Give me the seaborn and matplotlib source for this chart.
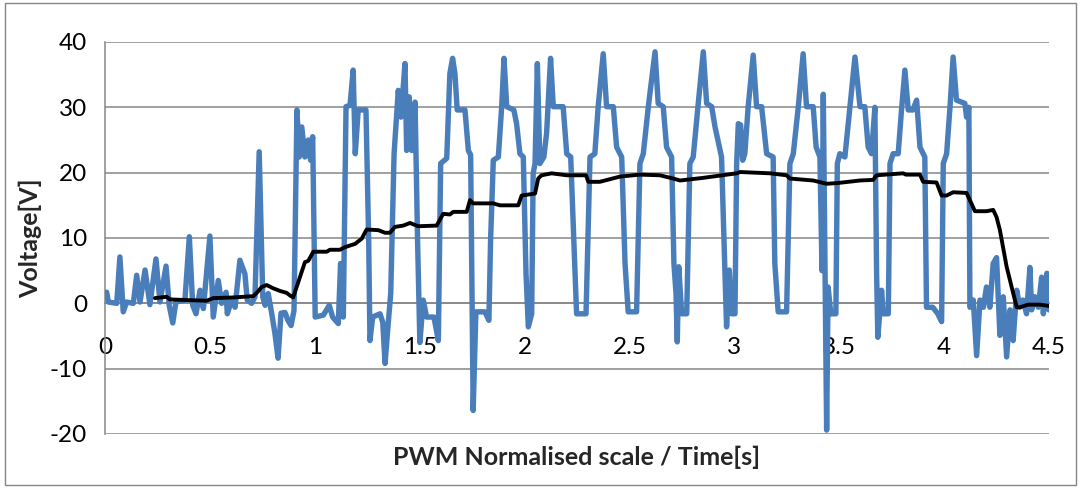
import matplotlib
matplotlib.use("Agg")
import matplotlib.pyplot as plt
from matplotlib.patches import Rectangle
import numpy as np
import pandas as pd
import seaborn as sns

# ---------------- data ----------------
blue_t = [0.008,0.016,0.056,0.071,0.087,0.103,0.135,0.151,0.167,0.191,
          0.214,0.243,0.262,0.291,0.306,0.323,0.338,0.381,0.402,0.418,
          0.434,0.453,0.469,0.500,0.516,0.540,0.556,0.577,0.583,0.604,
          0.620,0.643,0.667,0.678,0.699,0.715,0.735,0.752,0.763,0.778,
          0.795,0.810,0.825,0.839,0.858,0.872,0.887,0.901,0.915,0.926,
          0.938,0.953,0.969,0.980,0.990,1.002,1.041,1.069,1.085,1.112,
          1.123,1.136,1.149,1.168,1.183,1.193,1.207,1.244,1.257,1.263,
          1.276,1.311,1.324,1.335,1.350,1.362,1.378,1.398,1.411,1.430,
          1.438,1.450,1.462,1.478,1.490,1.501,1.517,1.533,1.568,1.589,
          1.600,1.629,1.644,1.657,1.668,1.679,1.716,1.732,1.743,1.755,
          1.768,1.811,1.830,1.838,1.851,1.875,1.891,1.902,1.915,1.949,
          1.962,1.978,1.994,2.007,2.018,2.034,2.041,2.050,2.061,2.073,
          2.092,2.105,2.124,2.137,2.184,2.201,2.220,2.235,2.248,2.293,
          2.312,2.335,2.351,2.375,2.391,2.423,2.439,2.463,2.479,2.494,
          2.534,2.550,2.566,2.590,2.622,2.637,2.661,2.677,2.701,2.712,
          2.722,2.728,2.735,2.749,2.773,2.788,2.804,2.828,2.852,2.868,
          2.892,2.908,2.939,2.955,2.963,2.976,2.987,3.003,3.011,3.019,
          3.030,3.040,3.050,3.066,3.090,3.106,3.130,3.154,3.185,3.193,
          3.209,3.249,3.265,3.281,3.305,3.328,3.344,3.376,3.390,3.408,
          3.418,3.424,3.440,3.447,3.460,3.484,3.491,3.503,3.527,3.551,
          3.575,3.599,3.622,3.638,3.654,3.670,3.678,3.684,3.702,3.710,
          3.734,3.742,3.757,3.781,3.797,3.813,3.829,3.851,3.869,3.885,
          3.908,3.916,3.946,3.970,3.988,3.996,4.012,4.028,4.043,4.059,
          4.099,4.107,4.118,4.123,4.139,4.155,4.171,4.187,4.202,4.218,
          4.234,4.250,4.266,4.282,4.298,4.314,4.329,4.346,4.361,4.376,
          4.393,4.409,4.417,4.433,4.449,4.465,4.473,4.490,4.499]

blue_v = [1.7,0.2,0.0,7.1,-1.3,0.2,0.0,4.3,0.2,5.1,
          -0.2,6.8,0.2,5.7,-0.3,-3.0,0.2,0.5,10.2,-0.3,
          -1.6,2.0,-0.8,10.3,-2.1,3.5,0.0,1.7,-1.6,0.5,
          -0.6,6.6,4.5,0.5,0.0,1.0,23.2,1.0,-0.3,1.5,
          -1.6,-4.6,-8.4,-1.5,-1.4,-2.6,-3.4,-1.1,29.6,22.4,
          27.0,22.4,25.0,21.9,25.5,-2.1,-1.8,-0.3,-2.1,-3.1,
          6.1,-2.1,30.1,30.3,35.7,22.9,29.6,29.6,9.6,-5.7,
          -2.1,-1.6,-2.9,-9.2,-3.1,1.5,22.9,32.6,28.5,36.7,
          23.4,31.6,23.4,30.8,9.6,-6.0,0.5,-2.1,-2.1,-5.7,
          21.4,22.2,35.2,37.5,35.2,29.6,29.6,23.4,22.7,-16.4,
          -1.3,-1.3,-2.6,9.6,21.9,22.4,30.1,37.5,30.1,29.6,
          27.5,22.9,22.4,4.5,-3.6,-1.6,19.9,21.4,36.7,21.4,
          22.4,26.0,37.5,30.1,30.1,22.9,22.4,9.6,-1.6,-1.6,
          22.4,22.9,30.1,38.2,30.1,30.1,23.9,22.4,6.1,-1.3,
          -1.3,21.4,22.9,30.1,38.5,30.6,30.1,23.9,22.4,6.1,
          1.5,-5.9,5.6,-1.6,-1.6,21.4,22.4,30.6,38.5,30.6,
          30.1,27.0,22.4,5.1,-3.6,5.1,-1.6,-1.6,21.4,27.5,
          27.3,21.9,22.9,30.1,38.0,30.1,30.1,22.9,22.4,6.1,
          -1.3,-1.3,21.4,22.9,30.1,38.2,30.1,30.1,23.9,22.4,
          5.0,32.0,-19.4,2.5,-1.6,-1.6,21.4,22.9,22.4,30.1,
          37.7,30.1,30.1,23.9,22.9,30.0,5.0,-5.2,2.0,-1.6,
          -1.6,21.4,22.9,22.9,29.6,35.7,29.6,29.6,31.1,23.9,
          22.4,-0.6,-0.6,-1.6,-2.8,21.4,22.9,30.0,37.7,31.1,
          30.6,28.5,30.0,-0.6,0.5,-8.0,0.5,-0.6,2.5,-0.6,
          6.1,7.0,-4.9,1.0,-8.2,-1.0,-5.7,2.0,-0.6,0.5,
          -1.6,5.5,-1.0,1.0,-0.6,4.0,-1.6,4.6,-1.0]

black_t = [0.238,0.294,0.310,0.389,0.485,0.516,0.612,0.707,0.723,0.747,
           0.771,0.802,0.834,0.866,0.882,0.897,0.953,0.969,0.993,1.057,
           1.072,1.120,1.144,1.192,1.224,1.247,1.303,1.335,1.358,1.382,
           1.422,1.454,1.493,1.581,1.612,1.644,1.660,1.724,1.740,1.755,
           1.787,1.851,1.883,1.970,1.986,2.050,2.065,2.081,2.129,2.201,
           2.293,2.304,2.359,2.383,2.455,2.550,2.645,2.709,2.741,2.850,
           3.011,3.027,3.170,3.249,3.265,3.376,3.440,3.488,3.599,3.662,
           3.678,3.805,3.818,3.885,3.900,3.964,3.988,4.012,4.043,4.107,
           4.147,4.202,4.234,4.250,4.266,4.298,4.346,4.361,4.401,4.457,4.500]

black_v = [0.8,1.0,0.6,0.5,0.4,0.8,0.9,1.1,1.6,2.5,
           2.8,2.3,1.9,1.6,1.2,0.9,6.3,6.5,7.9,7.9,
           8.2,8.2,8.6,9.1,9.9,11.3,11.2,10.8,10.8,11.7,
           11.9,12.3,11.8,11.9,13.7,13.6,14.0,14.0,15.8,15.3,
           15.3,15.3,15.0,15.0,16.5,16.8,19.1,19.6,19.9,19.6,
           19.6,18.6,18.6,18.8,19.4,19.7,19.6,19.1,18.8,19.2,
           19.9,20.1,19.9,19.6,19.1,18.8,18.3,18.4,18.8,18.9,
           19.6,19.9,19.7,19.7,18.6,18.5,16.5,16.5,17.0,16.9,
           14.1,14.1,14.3,13.2,11.2,5.6,-0.6,-0.6,-0.2,-0.2,-0.4]

x_ticks = [0, 0.5, 1, 1.5, 2, 2.5, 3, 3.5, 4, 4.5]
x_tick_labels = ["0", "0.5", "1", "1.5", "2", "2.5", "3", "3.5", "4", "4.5"]
y_ticks = [-20, -10, 0, 10, 20, 30, 40]
y_tick_labels = ["-20", "-10", "0", "10", "20", "30", "40"]
x_title = "PWM Normalised scale / Time[s]"
y_title = "Voltage[V]"

# ---------------- styling ----------------
sns.set_style("white")
plt.rcParams["font.family"] = ["Lato", "DejaVu Sans"]
plt.rcParams["axes.unicode_minus"] = False

GRAY = "#868686"
BLUE = "#4A7EBB"

W, H = 1080, 488
fig = plt.figure(figsize=(W / 100, H / 100), dpi=100)
ax = fig.add_axes([105 / W, (H - 434) / H, 944 / W, 392 / H])

df_blue = pd.DataFrame({"t": blue_t, "v": blue_v})
df_black = pd.DataFrame({"t": black_t, "v": black_v})

sns.lineplot(data=df_blue, x="t", y="v", ax=ax, color=BLUE, linewidth=3.9,
             estimator=None, sort=False, zorder=3)
sns.lineplot(data=df_black, x="t", y="v", ax=ax, color="black", linewidth=2.8,
             estimator=None, sort=False, zorder=4)
widths = [3.9, 2.8]
for ln, w in zip(ax.lines, widths):
    ln.set_linewidth(w)
    ln.set_solid_joinstyle("round")
    ln.set_solid_capstyle("round")

ax.set_xlim(0, 4.5)
ax.set_ylim(-20, 40)
ax.set_xticks(x_ticks)
ax.set_xticklabels(x_tick_labels)
ax.set_yticks(y_ticks)
ax.set_yticklabels(y_tick_labels)

ax.grid(axis="y", color=GRAY, lw=1.1)
ax.grid(axis="x", visible=False)
ax.set_axisbelow(True)

for s in ("top", "right"):
    ax.spines[s].set_visible(False)
ax.spines["left"].set_color(GRAY)
ax.spines["left"].set_linewidth(1.1)
ax.spines["bottom"].set_position(("data", 0))
ax.spines["bottom"].set_color(GRAY)
ax.spines["bottom"].set_linewidth(1.1)

ax.tick_params(axis="y", length=6, width=1.1, color=GRAY, direction="out",
               pad=7, labelsize=17.5, labelcolor="black")
ax.tick_params(axis="x", length=0, pad=24, labelsize=17.5, labelcolor="black")

ax.set_xlabel(x_title, fontweight="bold", fontsize=18, va="center")
ax.xaxis.set_label_coords(0.5, -23 / 392)
ax.set_ylabel(y_title, fontweight="bold", fontsize=18, va="center")
ax.yaxis.set_label_coords((30 - 105) / 944, 0.5)

fig.patches.append(Rectangle((5 / W, 3 / H), 1071 / W, 482 / H,
                             transform=fig.transFigure, fill=False,
                             edgecolor=GRAY, lw=1.0))

fig.savefig("out.png", dpi=100)
